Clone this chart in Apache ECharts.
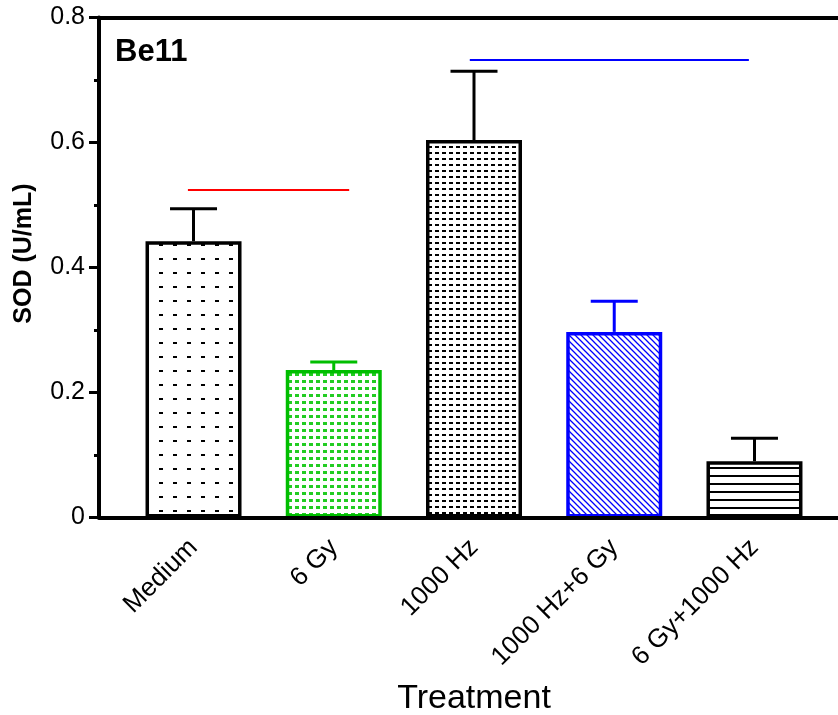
<!DOCTYPE html>
<html>
<head>
<meta charset="utf-8">
<script src="https://cdn.jsdelivr.net/npm/echarts@6/dist/echarts.min.js"></script>
<style>
  html, body { margin: 0; padding: 0; background: #fff; }
  #chart { width: 838px; height: 715px; }
</style>
</head>
<body>
<div id="chart"></div>
<script>
// SOD activity per treatment group (mean + SEM)
const categories = ['Medium', '6 Gy', '1000 Hz', '1000 Hz+6 Gy', '6 Gy+1000 Hz'];
const sodMean = [0.442, 0.236, 0.604, 0.297, 0.090];
const sodSem = [0.052, 0.013, 0.110, 0.049, 0.037];
const yMin = 0, yMax = 0.8, yStep = 0.2;

// Comparison brackets: start / end position (in category units) and level
const sigStart = [-0.04, 1.97];
const sigEnd = [1.11, 3.96];
const sigLevel = [0.524, 0.732];

const FONT = 'Arial, "Liberation Sans", sans-serif';
const edgeColors = ['#000000', '#00be00', '#000000', '#0000ff', '#000000'];
const sigColors = ['#ff0000', '#0000ff'];

function tile(w, h, draw) {
  const c = document.createElement('canvas');
  c.width = w; c.height = h;
  const g = c.getContext('2d');
  g.fillStyle = '#ffffff';
  g.fillRect(0, 0, w, h);
  draw(g);
  return { image: c, repeat: 'repeat' };
}

const fills = [
  // sparse dots
  tile(14, 14, g => { g.fillStyle = '#000'; g.fillRect(5, 6, 4, 2); }),
  // dense green dots
  tile(7, 7, g => { g.fillStyle = '#22cc22'; g.fillRect(1, 2, 4, 3); }),
  // dense black dots
  tile(7, 6, g => { g.fillStyle = '#000'; g.fillRect(1, 2, 4, 2); }),
  // blue diagonal hatch
  tile(6, 6, g => {
    g.strokeStyle = '#0000ff'; g.lineWidth = 1.3;
    g.beginPath();
    g.moveTo(-1, -1); g.lineTo(7, 7);
    g.moveTo(-7, -1); g.lineTo(1, 7);
    g.moveTo(5, -1); g.lineTo(13, 7);
    g.stroke();
  }),
  // horizontal lines
  tile(4, 8, g => { g.fillStyle = '#000'; g.fillRect(0, 3, 4, 2); })
];

const chart = echarts.init(document.getElementById('chart'), null, { renderer: 'canvas' });

const gridTop = 17.5, gridBottom = 197.5;

chart.setOption({
  animation: false,
  backgroundColor: '#ffffff',
  title: {
    text: 'Be11',
    left: 110, top: 32,
    textStyle: { fontFamily: FONT, fontWeight: 'bold', fontSize: 31, color: '#000' }
  },
  grid: [
    { left: 99, right: 0, top: gridTop, bottom: gridBottom, outerBoundsMode: 'none', containLabel: false },
    { left: 123.4, right: 13.4, top: gridTop, bottom: gridBottom, outerBoundsMode: 'none', containLabel: false }
  ],
  xAxis: [
    {
      gridIndex: 0, type: 'value', min: 0, max: 1, position: 'bottom', z: 10,
      axisLine: { show: true, lineStyle: { color: '#000', width: 4 } },
      axisTick: { show: false }, axisLabel: { show: false }, splitLine: { show: false }
    },
    {
      gridIndex: 0, type: 'value', min: 0, max: 1, position: 'top', z: 10,
      axisLine: { show: true, lineStyle: { color: '#000', width: 4 } },
      axisTick: { show: false }, axisLabel: { show: false }, splitLine: { show: false }
    },
    {
      gridIndex: 1, type: 'category', data: categories,
      axisLine: { show: false }, axisTick: { show: false },
      axisLabel: {
        rotate: 45, margin: 26, interval: 0,
        fontFamily: FONT, fontSize: 26, color: '#000'
      },
      name: 'Treatment', nameLocation: 'middle', nameGap: 164,
      nameTextStyle: { fontFamily: FONT, fontSize: 34, color: '#000' }
    }
  ],
  yAxis: [
    {
      gridIndex: 0, type: 'value', min: yMin, max: yMax, interval: yStep, z: 10,
      axisLine: { show: true, lineStyle: { color: '#000', width: 4 } },
      axisTick: { show: true, inside: false, length: 10, lineStyle: { color: '#000', width: 3 } },
      minorTick: { show: true, splitNumber: 2, length: 5, lineStyle: { color: '#000', width: 3 } },
      axisLabel: { margin: 14, fontFamily: FONT, fontSize: 25, color: '#000' },
      splitLine: { show: false },
      name: 'SOD (U/mL)', nameLocation: 'middle', nameGap: 62,
      nameTextStyle: { fontFamily: FONT, fontWeight: 'bold', fontSize: 25, color: '#000', padding: [0, 0, 0, 28] }
    },
    {
      gridIndex: 1, type: 'value', min: yMin, max: yMax, interval: yStep, show: false
    }
  ],
  series: [
    {
      type: 'custom', xAxisIndex: 2, yAxisIndex: 1, z: 1,
      data: sigLevel.map((v, i) => [i, v]),
      renderItem: function (params, api) {
        const i = params.dataIndex;
        const band = api.size([1, 0])[0];
        const origin = api.coord([0, sigLevel[i]]);
        return {
          type: 'line',
          shape: {
            x1: origin[0] + sigStart[i] * band, y1: origin[1],
            x2: origin[0] + sigEnd[i] * band, y2: origin[1]
          },
          style: { stroke: sigColors[i], lineWidth: 2 }
        };
      }
    },
    {
      type: 'bar', xAxisIndex: 2, yAxisIndex: 1, z: 2,
      barWidth: 96,
      data: sodMean.map((v, i) => ({
        value: v,
        itemStyle: { color: fills[i], borderColor: edgeColors[i], borderWidth: 3.5 }
      }))
    },
    {
      type: 'custom', xAxisIndex: 2, yAxisIndex: 1, z: 3,
      data: sodMean.map((v, i) => [i, v + sodSem[i], v]),
      renderItem: function (params, api) {
        const i = params.dataIndex;
        const top = api.coord([api.value(0), api.value(1)]);
        const base = api.coord([api.value(0), api.value(2)]);
        const half = 23.5;
        const st = { stroke: edgeColors[i], lineWidth: 3 };
        return {
          type: 'group',
          children: [
            { type: 'line', shape: { x1: top[0], y1: base[1], x2: top[0], y2: top[1] }, style: st },
            { type: 'line', shape: { x1: top[0] - half, y1: top[1], x2: top[0] + half, y2: top[1] }, style: st }
          ]
        };
      }
    }
  ]
});
</script>
</body>
</html>
